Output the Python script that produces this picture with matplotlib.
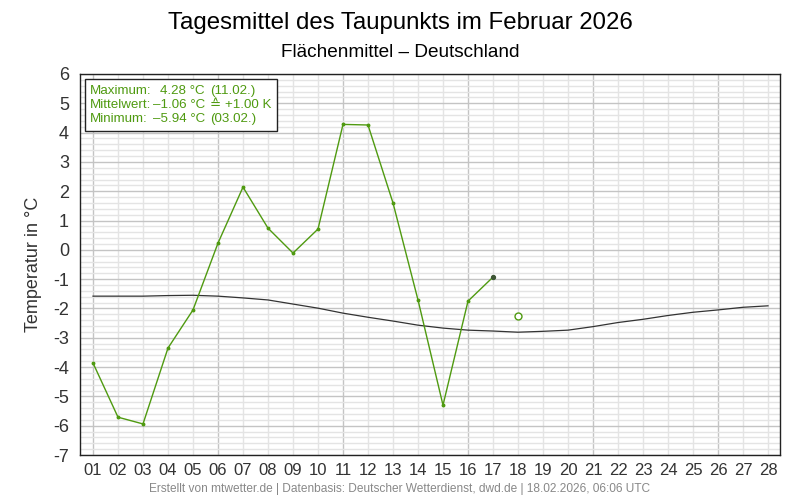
import matplotlib
matplotlib.use("Agg")
import matplotlib.pyplot as plt
from matplotlib.ticker import MultipleLocator
from matplotlib.patches import Rectangle

plt.rcParams['font.family'] = ['Liberation Sans', 'DejaVu Sans']
plt.rcParams['axes.unicode_minus'] = False

days = list(range(1, 29))
day_labels = [f"{d:02d}" for d in days]
obs_days = list(range(1, 18))
obs_values = [-3.86, -5.71, -5.94, -3.35, -2.05, 0.23, 2.14, 0.74, -0.11, 0.71,
              4.28, 4.26, 1.60, -1.71, -5.30, -1.75, -0.93]
forecast_day = [18]
forecast_value = [-2.26]
clim_values = [-1.58, -1.58, -1.58, -1.56, -1.55, -1.58, -1.64, -1.71, -1.85, -1.99,
               -2.16, -2.30, -2.43, -2.57, -2.67, -2.74, -2.77, -2.81, -2.78, -2.74,
               -2.62, -2.48, -2.37, -2.24, -2.13, -2.05, -1.96, -1.91]

title = "Tagesmittel des Taupunkts im Februar 2026"
subtitle = "Flächenmittel – Deutschland"
ylabel = "Temperatur in °C"
footer = "Erstellt von mtwetter.de | Datenbasis: Deutscher Wetterdienst, dwd.de | 18.02.2026, 06:06 UTC"
stat_labels = ["Maximum:", "Mittelwert:", "Minimum:"]
stat_values = ["4.28 °C", "–1.06 °C", "–5.94 °C"]
stat_extra = ["(11.02.)", "≙ +1.00 K", "(03.02.)"]

green = '#4f9a10'

fig = plt.figure(figsize=(8, 5), dpi=100)
ax = fig.add_axes([0.1, 0.09, 0.875, 0.762])

ax.set_xlim(0.48, 28.48)
ax.set_ylim(-7, 6)
ax.yaxis.set_major_locator(MultipleLocator(1))
ax.set_xticks(days)
ax.set_xticklabels(day_labels)

ax.grid(False)
for d in days:
    c = '#c4c4c4' if (d - 1) % 5 == 0 else '#e4e4e4'
    ax.axvline(d, color=c, lw=1, zorder=0)
for k in range(-35, 31):
    v = k * 0.2
    if k % 5 == 0:
        ax.axhline(v, color='#c4c4c4', lw=1, zorder=0)
    else:
        ax.axhline(v, color='#e4e4e4', lw=1, zorder=0)

ax.tick_params(axis='both', which='both', length=0)
ax.tick_params(axis='y', labelsize=13, pad=8, colors='#333333')
ax.tick_params(axis='x', labelsize=12, pad=6, colors='#333333')
for s in ax.spines.values():
    s.set_color('#222222')
    s.set_linewidth(1)

ax.plot(days, clim_values, color='#333333', lw=0.9, zorder=2)
ax.plot(obs_days, obs_values, color=green, lw=1, marker='o', ms=1.8, zorder=3)
ax.plot(obs_days[-1:], obs_values[-1:], ls='none', marker='o', ms=2.8, color='#3d5535', zorder=4)
ax.plot(forecast_day, forecast_value, ls='none', marker='o', ms=5, mfc='white', mec=green, mew=1, zorder=4)

ax.set_ylabel(ylabel, fontsize=13, color='#333333', labelpad=8)

fig.text(0.5, 0.955, title, ha='center', va='center', fontsize=17.3)
fig.text(0.5, 0.895, subtitle, ha='center', va='center', fontsize=13.7)
fig.text(0.5, 0.022, footer, ha='center', va='center', fontsize=8.6, color='#888888')

box = Rectangle((85 / 800, 1 - 131 / 500), 192 / 800, 52 / 500, transform=fig.transFigure,
                facecolor='white', edgecolor='#222222', lw=1, zorder=5)
fig.patches.append(box)
rows_y = [91, 105, 119]
for lab, val, ext, y in zip(stat_labels, stat_values, stat_extra, rows_y):
    fy = 1 - y / 500
    fig.text(90 / 800, fy, lab, ha='left', va='center', fontsize=9.6, color=green, zorder=6)
    fig.text(205 / 800, fy, val, ha='right', va='center', fontsize=9.6, color=green, zorder=6)
    fig.text(210 / 800, fy, ext, ha='left', va='center', fontsize=9.6, color=green, zorder=6)

fig.savefig('out.png', dpi=100)
